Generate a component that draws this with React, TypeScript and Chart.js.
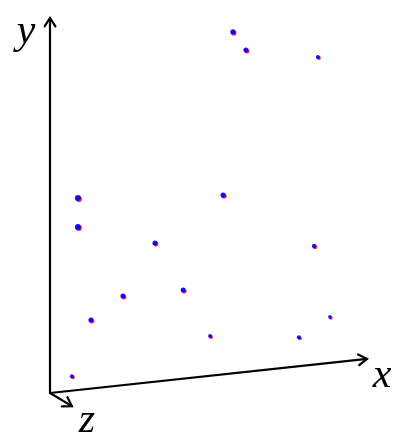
import React, { useEffect, useRef } from "react";
import { Chart, registerables } from "chart.js";

Chart.register(...registerables);

// Projected positions of the points (units along the drawn axes)
const pointX = [5.77, 6.18, 8.45, 0.88, 0.88, 5.46, 3.31, 8.33, 2.3, 4.2, 1.29, 5.05, 7.85, 8.83, 0.69];
const pointY = [9.63, 9.15, 8.96, 5.2, 4.43, 5.28, 4.0, 3.92, 2.59, 2.75, 1.95, 1.52, 1.49, 2.03, 0.45];
const pointSize = [2.6, 2.5, 2.0, 3.0, 3.0, 2.6, 2.5, 2.2, 2.5, 2.5, 2.5, 2.0, 2.0, 1.8, 2.0];

// Axis ends (origin is 0,0)
const xAxisEnd = { x: 10, y: 0.91 };
const yAxisEnd = { x: 0, y: 10 };
const zAxisEnd = { x: 0.69, y: -0.35 };
const axisLabels = ["x", "y", "z"];

export default function App() {
  const ref = useRef<HTMLCanvasElement | null>(null);

  useEffect(() => {
    document.body.style.margin = "0";
    const pts = pointX.map((x, i) => ({ x, y: pointY[i] }));

    const shadowPlugin = {
      id: "shadowShift",
      beforeDatasetDraw(chart: any, args: any) {
        if (args.index === 1) {
          chart.ctx.save();
          chart.ctx.translate(1, 1);
        }
      },
      afterDatasetDraw(chart: any, args: any) {
        if (args.index === 1) chart.ctx.restore();
      },
    };

    const axesPlugin = {
      id: "axes3d",
      afterDraw(chart: any) {
        const { ctx, scales } = chart;
        const px = (v: number) => scales.x.getPixelForValue(v);
        const py = (v: number) => scales.y.getPixelForValue(v);
        const ox = px(0);
        const oy = py(0);
        const arrow = (ex: number, ey: number) => {
          ctx.beginPath();
          ctx.moveTo(ox, oy);
          ctx.lineTo(ex, ey);
          ctx.stroke();
          const ang = Math.atan2(ey - oy, ex - ox);
          const L = 10;
          const a = Math.PI / 5.5;
          ctx.beginPath();
          ctx.moveTo(ex - L * Math.cos(ang - a), ey - L * Math.sin(ang - a));
          ctx.lineTo(ex, ey);
          ctx.lineTo(ex - L * Math.cos(ang + a), ey - L * Math.sin(ang + a));
          ctx.stroke();
        };
        ctx.save();
        ctx.strokeStyle = "#000";
        ctx.lineWidth = 2.2;
        ctx.lineCap = "round";
        ctx.lineJoin = "miter";
        const xe = { x: px(xAxisEnd.x), y: py(xAxisEnd.y) };
        const ye = { x: px(yAxisEnd.x), y: py(yAxisEnd.y) };
        const ze = { x: px(zAxisEnd.x), y: py(zAxisEnd.y) };
        arrow(xe.x, xe.y);
        arrow(ye.x, ye.y);
        arrow(ze.x, ze.y);
        ctx.fillStyle = "#000";
        ctx.font = "italic 42px 'Liberation Serif'";
        ctx.textAlign = "center";
        ctx.textBaseline = "alphabetic";
        ctx.fillText(axisLabels[0], xe.x + 15, xe.y + 28);
        ctx.fillText(axisLabels[1], ye.x - 24, ye.y + 25);
        ctx.fillText(axisLabels[2], ze.x + 15, ze.y + 26);
        ctx.restore();
      },
    };

    const chart = new Chart(ref.current as HTMLCanvasElement, {
      type: "scatter",
      data: {
        datasets: [
          {
            data: pts,
            backgroundColor: "rgba(0,0,255,0.9)",
            borderWidth: 0,
            pointRadius: pointSize,
            pointHoverRadius: pointSize,
            clip: false,
          } as any,
          {
            data: pts,
            backgroundColor: "rgba(255,0,0,0.85)",
            borderWidth: 0,
            pointRadius: pointSize,
            pointHoverRadius: pointSize,
            clip: false,
          } as any,
        ],
      },
      options: {
        animation: false,
        responsive: true,
        maintainAspectRatio: false,
        layout: { padding: { left: 50, right: 39, top: 18, bottom: 54 } },
        plugins: { legend: { display: false }, tooltip: { enabled: false } },
        scales: {
          x: { type: "linear", min: 0, max: 10, display: false },
          y: { type: "linear", min: 0, max: 10, display: false },
        },
      },
      plugins: [shadowPlugin, axesPlugin],
    });
    return () => chart.destroy();
  }, []);

  return (
    <div style={{ position: "absolute", left: 0, top: 0, width: 406, height: 447 }}>
      <canvas ref={ref} />
    </div>
  );
}
